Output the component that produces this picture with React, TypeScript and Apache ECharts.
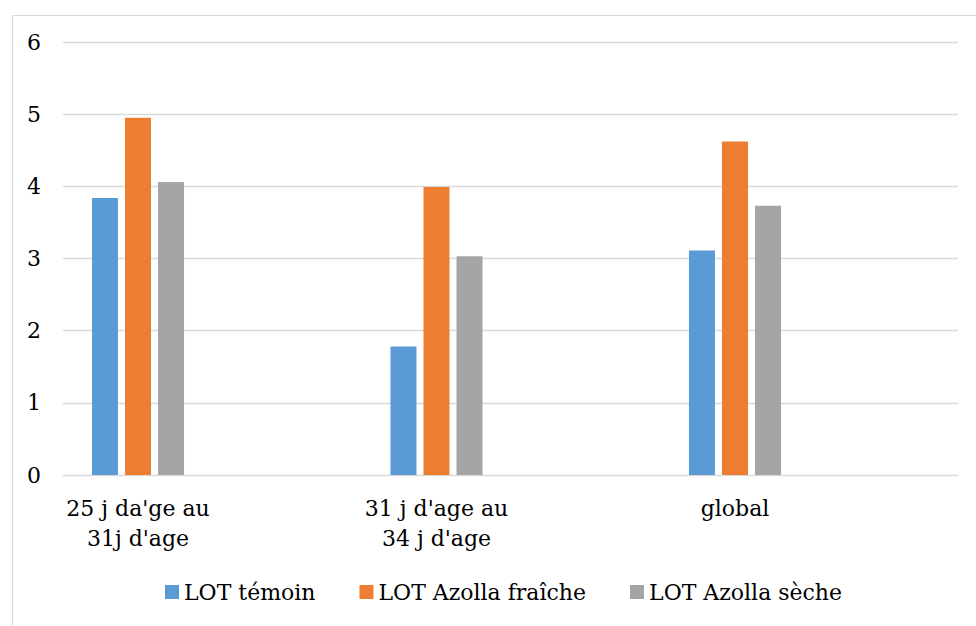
import React, { useEffect, useRef } from "react";
import * as echarts from "echarts";

const categories = ["25 j da'ge au\n31j d'age", "31 j d'age au\n34 j d'age", "global"];
const seriesNames = ["LOT témoin", "LOT Azolla fraîche", "LOT Azolla sèche"];
const temoin = [3.84, 1.78, 3.11];
const fraiche = [4.95, 3.99, 4.62];
const seche = [4.06, 3.03, 3.73];
const colors = ["#5b9bd5", "#ed7d31", "#a5a5a5"];

const FONT = "DejaVu Serif";
const FS = 22;

export default function App() {
  const ref = useRef<HTMLDivElement>(null);
  useEffect(() => {
    if (!ref.current) return;
    const chart = echarts.init(ref.current, null, { renderer: "svg" });
    const values = [temoin, fraiche, seche];
    chart.setOption({
      animation: false,
      backgroundColor: "#ffffff",
      textStyle: { fontFamily: FONT },
      graphic: [
        {
          type: "rect",
          left: 10,
          top: 13,
          shape: { x: 0, y: 0, width: 1000, height: 700 },
          style: { fill: "none", stroke: "#d9d9d9", lineWidth: 1 },
          silent: true,
          z: -1,
        },
      ],
      legend: {
        left: 160,
        top: 576,
        itemWidth: 14,
        itemHeight: 14,
        itemGap: 44,
        icon: "rect",
        textStyle: { fontSize: FS, fontFamily: FONT, color: "#000" },
        data: seriesNames,
      },
      grid: [
        { left: 63, right: 18, top: 42, bottom: 151 },
        { left: 138, right: 241, top: 42, bottom: 151 },
      ],
      xAxis: [
        { type: "value", gridIndex: 0, show: false, min: 0, max: 1 },
        {
          type: "category",
          gridIndex: 1,
          data: categories,
          boundaryGap: false,
          axisLine: { show: false },
          axisTick: { show: false },
          splitLine: { show: false },
          axisLabel: {
            fontSize: FS,
            lineHeight: 30,
            fontFamily: FONT,
            color: "#000",
            margin: 18,
            interval: 0,
          },
        },
      ],
      yAxis: [
        {
          type: "value",
          gridIndex: 0,
          min: 0,
          max: 6,
          interval: 1,
          axisLine: { show: false },
          axisTick: { show: false },
          splitLine: { lineStyle: { color: "#d9d9d9", width: 1.3 } },
          axisLabel: { fontSize: FS, fontFamily: FONT, color: "#000", margin: 22 },
        },
        { type: "value", gridIndex: 1, min: 0, max: 6, interval: 1, show: false, splitLine: { show: false } },
      ],
      series: seriesNames.map((name, i) => ({
        name,
        type: "bar",
        xAxisIndex: 1,
        yAxisIndex: 1,
        data: values[i],
        barWidth: 26,
        barGap: "27%",
        clip: false,
        itemStyle: { color: colors[i] },
      })),
    });
    return () => chart.dispose();
  }, []);
  return (
    <div
      ref={ref}
      style={{ position: "fixed", left: 0, top: 0, width: 976, height: 626 }}
    />
  );
}
